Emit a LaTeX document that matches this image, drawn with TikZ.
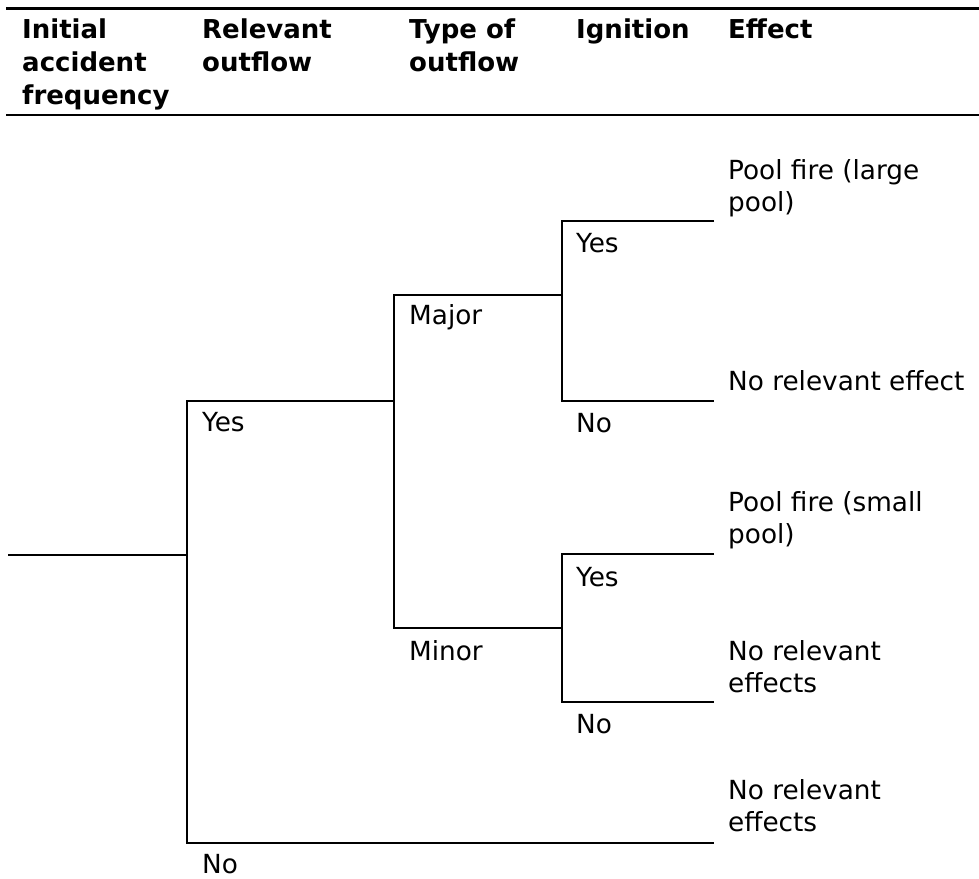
\documentclass[tikz,border=0pt]{standalone}
\usepackage{fontspec}
\setmainfont{DejaVu Sans}
\begin{document}
\begin{tikzpicture}[x=1pt,y=-1pt,
  tree/.style={line width=2pt},
  hrule/.style={line width=2.6pt},
  lbl/.style={anchor=base west, inner sep=0pt, font=\fontsize{26.3}{32}\selectfont},
  hdr/.style={anchor=base west, inner sep=0pt, font=\fontsize{26}{33}\selectfont\bfseries}]
\useasboundingbox (0,0) rectangle (979,878);

% header rules
\coordinate (t0) at (6,8.5);  \coordinate (t1) at (979,8.5);
\coordinate (b0) at (6,115);  \coordinate (b1) at (979,115);
\draw[hrule] (t0) -- (t1);
\draw[hrule] (b0) -- (b1);

% header texts
\node[hdr] (h1a) at (22,38) {Initial};
\node[hdr] (h1b) at (22,71) {accident};
\node[hdr] (h1c) at (22,104) {frequency};
\node[hdr] (h2a) at (202,38) {Relevant};
\node[hdr] (h2b) at (202,71) {outflow};
\node[hdr] (h3a) at (409,38) {Type of};
\node[hdr] (h3b) at (409,71) {outflow};
\node[hdr] (h4a) at (576,38) {Ignition};
\node[hdr] (h5a) at (728,38) {Effect};

% tree coordinates
\coordinate (r0) at (8,555);
\coordinate (r1) at (187,555);
\coordinate (v1t) at (187,401);
\coordinate (v1b) at (187,843);
\coordinate (y1e) at (394,401);
\coordinate (n1e) at (394,843);
\coordinate (n1f) at (562,843);
\coordinate (n1g) at (714,843);
\coordinate (v2t) at (394,295);
\coordinate (v2b) at (394,628);
\coordinate (maje) at (562,295);
\coordinate (mine) at (562,628);
\coordinate (v3t) at (562,221);
\coordinate (v3b) at (562,401);
\coordinate (ya) at (714,221);
\coordinate (na) at (714,401);
\coordinate (v4t) at (562,554);
\coordinate (v4b) at (562,702);
\coordinate (yb) at (714,554);
\coordinate (nb) at (714,702);

\draw[tree] (r0) -- (r1);
\draw[tree] (y1e) -- (v1t) -- (v1b) -- (n1e);
\draw[tree] (n1e) -- (n1f);
\draw[tree] (n1f) -- (n1g);
\draw[tree] (maje) -- (v2t) -- (v2b) -- (mine);
\draw[tree] (ya) -- (v3t) -- (v3b) -- (na);
\draw[tree] (yb) -- (v4t) -- (v4b) -- (nb);

% branch labels
\node[lbl] (lyes1) at (202,431) {Yes};
\node[lbl] (lno1) at (202,873) {No};
\node[lbl] (lmaj) at (409,324) {Major};
\node[lbl] (lmin) at (409,660) {Minor};
\node[lbl] (lya) at (576,252) {Yes};
\node[lbl] (lna) at (576,432) {No};
\node[lbl] (lyb) at (576,586) {Yes};
\node[lbl] (lnb) at (576,733) {No};

% effects
\node[lbl] (e1a) at (728,179) {Pool fire (large};
\node[lbl] (e1b) at (728,211) {pool)};
\node[lbl] (e2a) at (728,390) {No relevant effect};
\node[lbl] (e3a) at (728,511) {Pool fire (small};
\node[lbl] (e3b) at (728,543) {pool)};
\node[lbl] (e4a) at (728,660) {No relevant};
\node[lbl] (e4b) at (728,692) {effects};
\node[lbl] (e5a) at (728,799) {No relevant};
\node[lbl] (e5b) at (728,831) {effects};
\end{tikzpicture}
\end{document}
